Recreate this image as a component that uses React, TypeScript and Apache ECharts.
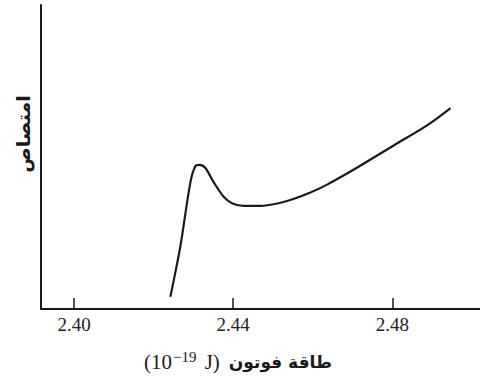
import React, { useEffect, useRef } from "react";
import * as echarts from "echarts";

const energy = [
  2.4242, 2.4267, 2.4292, 2.4304, 2.4315, 2.433, 2.435, 2.4376, 2.4397, 2.4426,
  2.4468, 2.4511, 2.4551, 2.4594, 2.4637, 2.4677, 2.472, 2.4803, 2.4888, 2.4946,
];
const absorption = [
  4.0, 20.5, 41.4, 46.8, 47.4, 46.4, 41.9, 36.9, 34.8, 33.9,
  33.9, 34.7, 36.2, 38.3, 41.0, 43.9, 47.2, 53.8, 60.5, 66.1,
];
const tickValues = [2.4, 2.44, 2.48];
const xName = "طاقة فوتون";
const xUnitBase = "(10";
const xUnitExp = "−19";
const xUnitTail = " J)";
const yName = "امتصاص";

export default function App() {
  const ref = useRef<HTMLDivElement>(null);
  useEffect(() => {
    if (!ref.current) return;
    const chart = echarts.init(ref.current, null, { renderer: "svg" });
    const data = energy.map((e, i) => [e, absorption[i]]);
    chart.setOption({
      animation: false,
      backgroundColor: "#ffffff",
      grid: { left: 41, right: 0, top: 5, bottom: 74 },
      xAxis: {
        type: "value",
        min: 2.3917,
        max: 2.502,
        axisLine: { show: true, onZero: false, lineStyle: { color: "#1a1a1a", width: 2 } },
        axisTick: {
          show: true,
          inside: true,
          length: 11,
          customValues: tickValues,
          lineStyle: { color: "#1a1a1a", width: 1.5 },
        },
        axisLabel: {
          show: true,
          customValues: tickValues,
          formatter: (v: number) => v.toFixed(2),
          fontFamily: "Liberation Serif, serif",
          fontSize: 19,
          color: "#222",
          margin: 6,
        },
        splitLine: { show: false },
      },
      yAxis: {
        type: "value",
        min: 0,
        max: 100,
        axisLine: { show: true, lineStyle: { color: "#1a1a1a", width: 2 } },
        axisTick: { show: false },
        axisLabel: { show: false },
        splitLine: { show: false },
      },
      graphic: [
        {
          type: "text",
          x: 144,
          y: 362,
          style: {
            text: `{a|${xUnitBase}}{s|${xUnitExp}}{a|${xUnitTail}}{g| }{ar|${xName}}`,
            textVerticalAlign: "middle",
            textAlign: "left",
            rich: {
              a: { fontFamily: "Liberation Serif, serif", fontSize: 21, fill: "#1a1a1a", lineHeight: 24 },
              s: {
                fontFamily: "Liberation Serif, serif",
                fontSize: 15,
                fill: "#1a1a1a",
                padding: [0, 3, 10, 1],
              },
              g: { fontSize: 18, width: 9 },
              ar: { fontFamily: "DejaVu Sans, sans-serif", fontSize: 17, fill: "#1a1a1a", fontWeight: "bold" },
            },
          },
        },
        {
          type: "text",
          x: 23,
          y: 134,
          rotation: Math.PI / 2,
          style: {
            text: yName,
            textAlign: "center",
            textVerticalAlign: "middle",
            fontFamily: "DejaVu Sans, sans-serif",
            fontSize: 19,
            fontWeight: "bold",
            fill: "#1a1a1a",
          },
        },
      ],
      series: [
        {
          type: "line",
          data,
          smooth: 0.3,
          showSymbol: false,
          lineStyle: { color: "#1a1a1a", width: 2.2 },
        },
      ],
    });
    return () => chart.dispose();
  }, []);
  return <div ref={ref} style={{ width: 480, height: 383, position: "absolute", left: 0, top: 0 }} />;
}
